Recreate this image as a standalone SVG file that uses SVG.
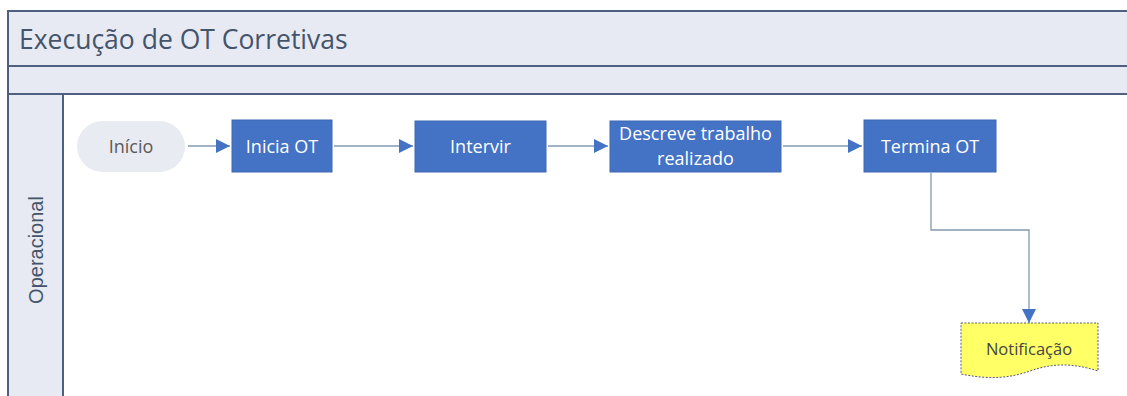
<svg xmlns="http://www.w3.org/2000/svg" width="1127" height="396" viewBox="0 0 1127 396">
  <style>
    .band { fill: #e7eaf3; stroke: #4f5f7f; stroke-width: 2; }
    .task { fill: #4472c4; stroke: #3f69b5; stroke-width: 1; }
    .tt { font-family: "Open Sans", "Noto Sans", sans-serif; font-size: 18px; fill: #ffffff; text-anchor: middle; }
    .conn { fill: none; stroke: #8497b0; stroke-width: 1.3; }
  </style>
  <defs>
    <marker id="arr" viewBox="0 0 10 10" refX="10" refY="5" markerWidth="14" markerHeight="14" markerUnits="userSpaceOnUse" orient="auto">
      <path d="M0,0 L10,5 L0,10 Z" fill="#4472c4"/>
    </marker>
  </defs>
  <rect width="1127" height="396" fill="#ffffff"/>
  <g id="pool">
    <rect class="band" x="8" y="11" width="1130" height="55"/>
    <rect class="band" x="8" y="66" width="1130" height="28"/>
    <rect class="band" x="8" y="94" width="55" height="310"/>
    <text x="19" y="49" font-family="Open Sans, Noto Sans, sans-serif" font-size="26.5" fill="#44546a">Execução de OT Corretivas</text>
    <text transform="translate(43,250) rotate(-90)" font-family="Liberation Sans, Arial, sans-serif" font-size="20" fill="#44546a" text-anchor="middle">Operacional</text>
  </g>
  <g id="connectors">
    <line class="conn" x1="188" y1="146" x2="230" y2="146" marker-end="url(#arr)"/>
    <line class="conn" x1="334" y1="146" x2="413" y2="146" marker-end="url(#arr)"/>
    <line class="conn" x1="548" y1="146" x2="608" y2="146" marker-end="url(#arr)"/>
    <line class="conn" x1="783" y1="146" x2="862" y2="146" marker-end="url(#arr)"/>
    <polyline class="conn" points="931,173 931,230 1029,230 1029,323" marker-end="url(#arr)"/>
  </g>
  <g id="inicio">
    <rect x="77" y="121" width="108" height="51" rx="25.5" fill="#e8ebf2"/>
    <text x="131" y="153" font-family="Open Sans, Noto Sans, sans-serif" font-size="18" fill="#5a5a5a" text-anchor="middle">Início</text>
  </g>
  <g id="inicia-ot">
    <rect class="task" x="232" y="120" width="100" height="52"/>
    <text class="tt" x="282" y="153">Inicia OT</text>
  </g>
  <g id="intervir">
    <rect class="task" x="415" y="121" width="131" height="51"/>
    <text class="tt" x="480.5" y="153">Intervir</text>
  </g>
  <g id="descreve">
    <rect class="task" x="610" y="121" width="171" height="51"/>
    <text class="tt" x="695.5" y="140" font-size="17.5">Descreve trabalho</text>
    <text class="tt" x="695.5" y="165" font-size="17.5">realizado</text>
  </g>
  <g id="termina-ot">
    <rect class="task" x="864" y="120" width="132" height="52"/>
    <text class="tt" x="930" y="153">Termina OT</text>
  </g>
  <g id="notificacao">
    <path d="M961,323 L1098,323 L1098,371 C1070,362 1050,364 1030,371 C1010,378 990,380 961,374 Z" fill="#ffff66" stroke="#555a80" stroke-width="1" stroke-dasharray="2,1.5"/>
    <text x="1029" y="355" font-family="Open Sans, Noto Sans, sans-serif" font-size="16.5" fill="#444444" text-anchor="middle">Notificação</text>
  </g>
</svg>
